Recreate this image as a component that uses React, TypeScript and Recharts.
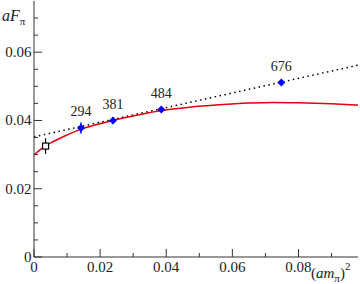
import { ComposedChart, Line, Scatter, XAxis, YAxis, ErrorBar, LabelList } from "recharts";

const xMajorTicks = [0, 0.02, 0.04, 0.06, 0.08];
const xTickLabels = ["0", "0.02", "0.04", "0.06", "0.08"];
const xMinorTicks = [0.01, 0.03, 0.05, 0.07, 0.09];
const yMajorTicks = [0, 0.02, 0.04, 0.06];
const yTickLabels = ["0", "0.02", "0.04", "0.06"];
const yMinorTicks = [0.005, 0.01, 0.015, 0.025, 0.03, 0.035, 0.045, 0.05, 0.055, 0.065, 0.07];

// lattice points, labelled by pion mass in MeV
const massLabels = ["294", "381", "484", "676"];
const mpiSq = [0.0142, 0.0239, 0.0385, 0.0748];
const fpi = [0.0378, 0.04, 0.0432, 0.0511];
const fpiErr = [0.0016, 0.0009, 0.0007, 0.0006];

// extrapolated physical point
const physX = [0.0035];
const physY = [0.0325];
const physErr = [0.0023];

// red fit curve
const fitX = [0, 0.001, 0.002, 0.0034, 0.006, 0.009, 0.0141, 0.019, 0.0239, 0.031, 0.0385, 0.047, 0.056, 0.065, 0.072, 0.08, 0.09, 0.098];
const fitY = [0.0299, 0.03075, 0.0315, 0.0325, 0.0339, 0.0353, 0.0374, 0.0388, 0.04, 0.0415, 0.0429, 0.0439, 0.0446, 0.0451, 0.0453, 0.0452, 0.0449, 0.0445];

// dotted linear fit
const linX = [0, 0.098];
const linY = [0.0352, 0.0562];

const X_MAX = 0.098;
const Y_MAX = 0.075;

const font = "Liberation Serif, serif";
const axisColor = "#333";

const fitData = fitX.map((x, i) => ({ x, y: fitY[i] }));
const linData = linX.map((x, i) => ({ x, y: linY[i] }));
const latData = mpiSq.map((x, i) => ({ x, y: fpi[i], err: fpiErr[i], label: massLabels[i] }));
const physData = physX.map((x, i) => ({ x, y: physY[i], err: physErr[i] }));

const near = (list: number[], v: number) => list.findIndex((t) => Math.abs(t - v) < 1e-9);

const BottomTick = (props: any) => {
  const { x, y, payload } = props;
  const i = near(xMajorTicks, payload.value);
  const len = i >= 0 ? 8 : 4;
  return (
    <g>
      <line x1={x} x2={x} y1={y} y2={y - len} stroke={axisColor} />
      {i >= 0 && (
        <text x={x} y={y + 15} textAnchor="middle" style={{ fontFamily: font }} fontSize={15} fill="#222">
          {xTickLabels[i]}
        </text>
      )}
    </g>
  );
};

const TopTick = (props: any) => {
  const { x, y, payload } = props;
  const len = near(xMajorTicks, payload.value) >= 0 ? 8 : 4;
  return <line x1={x} x2={x} y1={y} y2={y + len} stroke={axisColor} />;
};

const LeftTick = (props: any) => {
  const { x, y, payload } = props;
  const i = near(yMajorTicks, payload.value);
  const len = i >= 0 ? 8 : 4;
  return (
    <g>
      <line x1={x} x2={x + len} y1={y} y2={y} stroke={axisColor} />
      {i >= 0 && (
        <text x={x - 2.5} y={y + 5} textAnchor="end" style={{ fontFamily: font }} fontSize={15} fill="#222">
          {yTickLabels[i]}
        </text>
      )}
    </g>
  );
};

const RightTick = (props: any) => {
  const { x, y, payload } = props;
  const len = near(yMajorTicks, payload.value) >= 0 ? 8 : 4;
  return <line x1={x} x2={x - len} y1={y} y2={y} stroke={axisColor} />;
};

const Diamond = (props: any) => {
  const { cx, cy } = props;
  const r = 4;
  return <polygon points={`${cx},${cy - r} ${cx + r},${cy} ${cx},${cy + r} ${cx - r},${cy}`} fill="#0000ff" />;
};

const OpenSquare = (props: any) => {
  const { cx, cy } = props;
  return <rect x={cx - 3} y={cy - 3} width={6} height={6} fill="#fff" stroke="#000" strokeWidth={1.2} />;
};

const allX = [...xMajorTicks, ...xMinorTicks].sort((a, b) => a - b);
const allY = [...yMajorTicks, ...yMinorTicks].sort((a, b) => a - b);

export default function App() {
  return (
    <div style={{ position: "absolute", left: 0, top: 0, width: 360, height: 284, background: "#fff", fontFamily: font }}>
      <ComposedChart width={360} height={284} margin={{ top: 1, right: 2, left: 0, bottom: 0 }} style={{ fontFamily: font }}>
        <XAxis
          type="number"
          dataKey="x"
          domain={[0, X_MAX]}
          allowDataOverflow
          ticks={allX}
          interval={0}
          tick={<BottomTick />}
          tickLine={false}
          tickSize={0}
          tickMargin={0}
          height={27}
          axisLine={{ stroke: axisColor }}
        />
        <XAxis
          xAxisId="top"
          orientation="top"
          type="number"
          dataKey="x"
          domain={[0, X_MAX]}
          allowDataOverflow
          ticks={allX}
          interval={0}
          tick={<TopTick />}
          tickLine={false}
          tickSize={0}
          tickMargin={0}
          height={0}
          axisLine={{ stroke: axisColor }}
        />
        <YAxis
          type="number"
          dataKey="y"
          domain={[0, Y_MAX]}
          allowDataOverflow
          ticks={allY}
          interval={0}
          tick={<LeftTick />}
          tickLine={false}
          tickSize={0}
          tickMargin={0}
          width={34}
          axisLine={{ stroke: axisColor }}
        />
        <YAxis
          yAxisId="right"
          orientation="right"
          type="number"
          dataKey="y"
          domain={[0, Y_MAX]}
          allowDataOverflow
          ticks={allY}
          interval={0}
          tick={<RightTick />}
          tickLine={false}
          tickSize={0}
          tickMargin={0}
          width={0}
          axisLine={{ stroke: axisColor }}
        />
        <Line
          data={linData}
          dataKey="y"
          type="linear"
          stroke="#000"
          strokeWidth={1.5}
          strokeDasharray="1.5 3.5"
          dot={false}
          isAnimationActive={false}
        />
        <Line
          data={fitData}
          dataKey="y"
          type="monotone"
          stroke="#e3000f"
          strokeWidth={1.5}
          dot={false}
          isAnimationActive={false}
        />
        <Scatter data={physData} dataKey="y" shape={<OpenSquare />} isAnimationActive={false}>
          <ErrorBar dataKey="err" direction="y" width={0} stroke="#000" strokeWidth={1.2} />
        </Scatter>
        <Scatter data={latData} dataKey="y" shape={<Diamond />} isAnimationActive={false}>
          <ErrorBar dataKey="err" direction="y" width={0} stroke="#0000ff" strokeWidth={1.5} />
          <LabelList dataKey="label" position="top" offset={7} style={{ fontFamily: font }} fontSize={14} fill="#222" />
        </Scatter>
      </ComposedChart>
      <svg width={360} height={284} style={{ position: "absolute", left: 0, top: 0, pointerEvents: "none", fontFamily: font }}>
        <text x={2} y={21} fontSize={16} fill="#222">
          <tspan fontStyle="italic">aF</tspan>
          <tspan fontSize={11} dy={4}>π</tspan>
        </text>
        <text x={311} y={278} fontSize={15} fill="#222">
          <tspan>(</tspan>
          <tspan fontStyle="italic">am</tspan>
          <tspan fontSize={11} dy={4}>π</tspan>
          <tspan dy={-4}>)</tspan>
          <tspan fontSize={11} dy={-8}>2</tspan>
        </text>
      </svg>
    </div>
  );
}
